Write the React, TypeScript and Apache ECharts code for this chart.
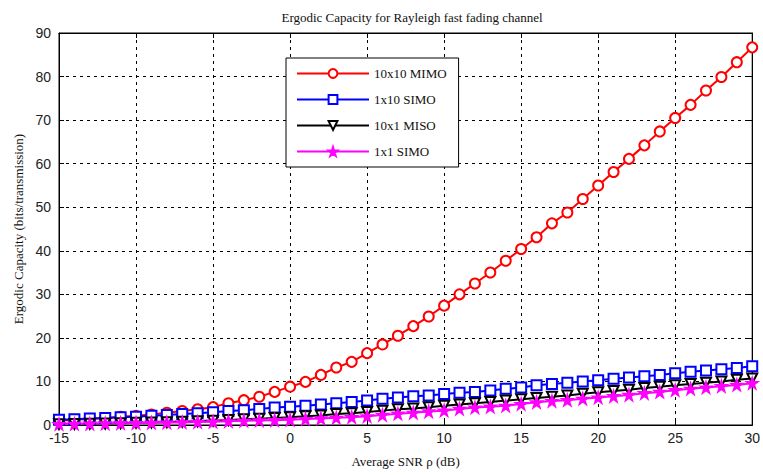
import React, { useEffect, useRef } from "react";
import * as echarts from "echarts";

const snrDb = [-15, -14, -13, -12, -11, -10, -9, -8, -7, -6, -5, -4, -3, -2, -1, 0, 1, 2, 3, 4, 5, 6, 7, 8, 9, 10, 11, 12, 13, 14, 15, 16, 17, 18, 19, 20, 21, 22, 23, 24, 25, 26, 27, 28, 29, 30];

const mimo10x10 = [1.0, 1.2, 1.4, 1.6, 1.9, 2.1, 2.4, 2.8, 3.2, 3.6, 4.1, 5.0, 5.7, 6.5, 7.6, 8.8, 9.9, 11.5, 13.2, 14.5, 16.5, 18.5, 20.5, 22.7, 24.9, 27.4, 30.0, 32.5, 35.0, 37.7, 40.4, 43.1, 46.3, 48.8, 51.9, 55.0, 58.1, 61.1, 64.2, 67.4, 70.5, 73.5, 76.8, 79.9, 83.3, 86.7];

const simo1x10 = [1.2, 1.3, 1.5, 1.6, 1.8, 1.9, 2.1, 2.3, 2.5, 2.7, 2.9, 3.2, 3.4, 3.7, 4.0, 4.2, 4.4, 4.7, 5.0, 5.3, 5.6, 6.0, 6.3, 6.6, 6.8, 7.1, 7.4, 7.6, 7.9, 8.3, 8.6, 9.1, 9.4, 9.7, 10.0, 10.3, 10.6, 10.9, 11.2, 11.5, 11.9, 12.2, 12.5, 12.8, 13.1, 13.5];

const miso10x1 = [0.2, 0.25, 0.3, 0.35, 0.4, 0.5, 0.55, 0.65, 0.75, 0.85, 1.0, 1.15, 1.3, 1.45, 1.6, 1.8, 2.0, 2.2, 2.5, 2.7, 3.0, 3.3, 3.6, 3.8, 4.1, 4.4, 4.7, 5.0, 5.3, 5.6, 5.9, 6.2, 6.5, 6.8, 7.2, 7.5, 7.8, 8.1, 8.5, 8.8, 9.1, 9.4, 9.7, 10.0, 10.4, 10.7];

const siso1x1 = [0.2, 0.25, 0.3, 0.35, 0.4, 0.45, 0.5, 0.55, 0.6, 0.7, 0.75, 0.85, 0.95, 1.05, 1.1, 1.2, 1.35, 1.5, 1.65, 1.8, 2.0, 2.3, 2.6, 2.8, 3.1, 3.3, 3.7, 4.0, 4.2, 4.4, 4.8, 5.2, 5.5, 5.7, 6.0, 6.3, 6.6, 6.9, 7.3, 7.6, 8.0, 8.3, 8.6, 8.9, 9.2, 9.6];

const legendNames = ["10x10 MIMO", "1x10 SIMO", "10x1 MISO", "1x1 SIMO"];

const STAR = "path://M50,0 L61,35 L98,35 L68,57 L79,91 L50,70 L21,91 L32,57 L2,35 L39,35 Z";

export default function App() {
  const ref = useRef<HTMLDivElement>(null);
  useEffect(() => {
    if (!ref.current) return;
    const chart = echarts.init(ref.current, null, { renderer: "svg" });
    const pair = (ys: number[]) => snrDb.map((x, i) => [x, ys[i]]);
    const labelFont = "'Liberation Sans', Arial, sans-serif";
    const serif = "'Liberation Serif', 'Times New Roman', serif";
    const baseX = {
      type: "value" as const,
      min: -15,
      max: 30,
      interval: 5,
    };
    const baseY = {
      type: "value" as const,
      min: 0,
      max: 90,
      interval: 10,
    };
    const mkSeries = (name: string, ys: number[], color: string, symbol: string, size: number, rotate = 0, filled = false) => ({
      name,
      type: "line" as const,
      data: pair(ys),
      symbol,
      symbolSize: size,
      symbolRotate: rotate,
      showAllSymbol: true,
      lineStyle: { color, width: 2 },
      itemStyle: { color: filled ? color : "#fff", borderColor: color, borderWidth: 2 },
      emphasis: { disabled: true },
    });
    chart.setOption({
      animation: false,
      backgroundColor: "#fff",
      title: {
        text: "Ergodic Capacity for Rayleigh fast fading channel",
        left: 407,
        top: 6,
        textAlign: "center",
        textStyle: { fontFamily: serif, fontSize: 13, fontWeight: "normal", color: "#111" },
      },
      legend: {
        orient: "vertical",
        left: 286,
        top: 58,
        width: 192,
        itemWidth: 72,
        itemHeight: 11,
        itemGap: 13,
        padding: [9, 12, 9, 10],
        backgroundColor: "#fff",
        borderColor: "#000",
        borderWidth: 1,
        data: legendNames,
        textStyle: { fontFamily: serif, fontSize: 13, color: "#111" },
      },
      grid: {
        left: 59,
        right: 9,
        top: 33,
        bottom: 50,
        show: true,
        borderColor: "#000",
        borderWidth: 1,
      },
      xAxis: [
        {
          ...baseX,
          position: "bottom",
          name: "Average SNR ρ (dB)",
          nameLocation: "middle",
          nameGap: 30,
          nameTextStyle: { fontFamily: serif, fontSize: 13, color: "#111" },
          axisLine: { show: true, onZero: false, lineStyle: { color: "#000" } },
          axisTick: { show: true, inside: true, length: 5, lineStyle: { color: "#000" } },
          axisLabel: { fontFamily: labelFont, fontSize: 14, color: "#222", margin: 6 },
          splitLine: { show: true, lineStyle: { color: "#000", type: [3, 4], width: 1 } },
        },
        {
          ...baseX,
          position: "top",
          axisLine: { show: true, onZero: false, lineStyle: { color: "#000" } },
          axisTick: { show: true, inside: true, length: 5, lineStyle: { color: "#000" } },
          axisLabel: { show: false },
          splitLine: { show: false },
        },
      ],
      yAxis: [
        {
          ...baseY,
          position: "left",
          name: "Ergodic Capacity (bits/transmission)",
          nameLocation: "middle",
          nameGap: 34,
          nameTextStyle: { fontFamily: serif, fontSize: 13, color: "#111" },
          axisLine: { show: true, onZero: false, lineStyle: { color: "#000" } },
          axisTick: { show: true, inside: true, length: 5, lineStyle: { color: "#000" } },
          axisLabel: { fontFamily: labelFont, fontSize: 14, color: "#222", margin: 8 },
          splitLine: { show: true, lineStyle: { color: "#000", type: [3, 4], width: 1 } },
        },
        {
          ...baseY,
          position: "right",
          axisLine: { show: true, onZero: false, lineStyle: { color: "#000" } },
          axisTick: { show: true, inside: true, length: 5, lineStyle: { color: "#000" } },
          axisLabel: { show: false },
          splitLine: { show: false },
        },
      ],
      series: [
        mkSeries(legendNames[0], mimo10x10, "#ff0000", "circle", 10),
        mkSeries(legendNames[1], simo1x10, "#0000ff", "rect", 10),
        mkSeries(legendNames[2], miso10x1, "#000000", "triangle", 10, 180),
        mkSeries(legendNames[3], siso1x1, "#ff00ff", STAR, 10, 0, true),
      ],
    });
    return () => chart.dispose();
  }, []);
  return <div ref={ref} style={{ position: "fixed", left: 0, top: 0, width: 763, height: 475 }} />;
}
